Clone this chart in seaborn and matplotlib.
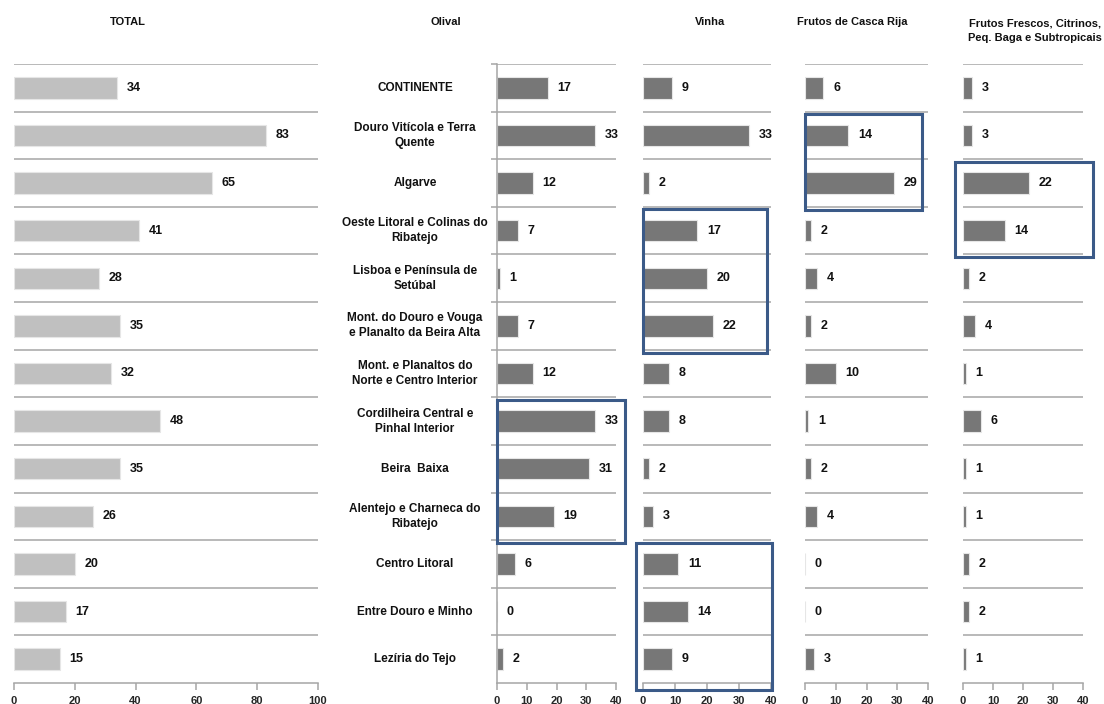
import pandas as pd
import numpy as np
import matplotlib
matplotlib.use('Agg')
import matplotlib.pyplot as plt
import seaborn as sns
from matplotlib.patches import Rectangle

# ── DATA ─────────────────────────────────────────────────────
regions = [
    'CONTINENTE',
    'Douro Vitícola e Terra\nQuente',
    'Algarve',
    'Oeste Litoral e Colinas do\nRibatejo',
    'Lisboa e Península de\nSetúbal',
    'Mont. do Douro e Vouga\ne Planalto da Beira Alta',
    'Mont. e Planaltos do\nNorte e Centro Interior',
    'Cordilheira Central e\nPinhal Interior',
    'Beira  Baixa',
    'Alentejo e Charneca do\nRibatejo',
    'Centro Litoral',
    'Entre Douro e Minho',
    'Lezíria do Tejo',
]

total = [34, 83, 65, 41, 28, 35, 32, 48, 35, 26, 20, 17, 15]
olival = [17, 33, 12, 7, 1, 7, 12, 33, 31, 19, 6, 0, 2]
vinha = [9, 33, 2, 17, 20, 22, 8, 8, 2, 3, 11, 14, 9]
casca_rija = [6, 14, 29, 2, 4, 2, 10, 1, 2, 4, 0, 0, 3]
frescos = [3, 3, 22, 14, 2, 4, 1, 6, 1, 1, 2, 2, 1]

titles = ['TOTAL', 'Olival', 'Vinha', 'Frutos de Casca Rija',
          'Frutos Frescos, Citrinos,\nPeq. Baga e Subtropicais']
series = [total, olival, vinha, casca_rija, frescos]
xmaxes = [100, 40, 40, 40, 40]
xsteps = [20, 10, 10, 10, 10]

# highlighted groups: panel index, first row, last row
highlights = [(1, 7, 9), (2, 3, 5), (2, 10, 12), (3, 1, 2), (4, 2, 3)]

# ── STYLE ────────────────────────────────────────────────────
sns.set_style('white')
FONT = ['Liberation Sans Narrow', 'Liberation Sans', 'DejaVu Sans']
plt.rcParams['font.family'] = FONT

LIGHT = '#c0c0c0'
DARK = '#777777'
GRID = '#a6a6a6'
BOX = '#3b5a88'

fig = plt.figure(figsize=(11.04, 7.04), dpi=100)

# axes rectangles in pixels -> figure fraction
lefts = [14, 497, 643, 805, 963]
rights = [318, 616, 771, 928, 1083]
top_px, bot_px = 64, 683
H = (bot_px - top_px) / 704
B = 1 - bot_px / 704

axes = []
for i, (vals, title) in enumerate(zip(series, titles)):
    ax = fig.add_axes([lefts[i] / 1104, B, (rights[i] - lefts[i]) / 1104, H])
    df = pd.DataFrame({'region': regions, 'value': vals})
    sns.barplot(data=df, x='value', y='region', orient='h', ax=ax,
                color=LIGHT if i == 0 else DARK, saturation=1,
                width=0.45, edgecolor='#e6e6e6', linewidth=0.8)
    for c in ax.containers:
        ax.bar_label(c, fmt='%d', padding=7, fontsize=9, fontweight='bold',
                     color='#111111', family=FONT)

    ax.set_xlim(0, xmaxes[i])
    ax.set_ylim(len(regions) - 0.5, -0.5)
    ax.set_xticks(np.arange(0, xmaxes[i] + 1, xsteps[i]))
    ax.set_xlabel('')
    ax.set_ylabel('')
    ax.set_yticks([])

    # row separators
    ax.set_yticks(np.arange(-0.5, len(regions) - 0.5, 1), minor=True)
    ax.grid(which='minor', axis='y', color=GRID, linewidth=1.1)
    ax.set_axisbelow(True)

    for s in ['top', 'right']:
        ax.spines[s].set_visible(False)
    ax.spines['bottom'].set_color(GRID)
    ax.spines['bottom'].set_linewidth(1.1)
    if i == 1:
        ax.spines['left'].set_color(GRID)
        ax.spines['left'].set_linewidth(1.1)
        ax.tick_params(axis='y', which='minor', left=True, length=4,
                       color=GRID, width=1.1)
    else:
        ax.spines['left'].set_visible(False)
        ax.tick_params(axis='y', which='minor', left=False)

    ax.tick_params(axis='x', bottom=True, length=5, color=GRID, width=1.1,
                   labelsize=8, pad=4)
    for lab in ax.get_xticklabels():
        lab.set_fontweight('bold')
    axes.append(ax)

# category labels, centred left of the Olival panel
ax_ol = axes[1]
for k, name in enumerate(regions):
    ax_ol.text((415 - 497) / (616 - 497), k, name,
               transform=ax_ol.get_yaxis_transform(),
               ha='center', va='center', fontsize=8.5, fontweight='bold',
               color='#111111', linespacing=1.35)

# panel titles
title_pos = [(128, 22), (446, 22), (710, 22), (852, 22), (1035, 31)]
for (px, py), t in zip(title_pos, titles):
    fig.text(px / 1104, 1 - py / 704, t, ha='center', va='center',
             fontsize=8, fontweight='bold', color='#111111', linespacing=1.5)

# highlight boxes around row groups (x extents in data units)
box_x = {(1, 7): (0.0, 43.0), (2, 3): (0.0, 38.8), (2, 10): (-2.2, 40.3),
         (3, 1): (0.0, 38.0), (4, 2): (-2.7, 43.3)}
for pi, r0, r1 in highlights:
    ax = axes[pi]
    x0, x1 = box_x[(pi, r0)]
    y0, y1 = r0 - 0.45, r1 + 0.56
    if (pi, r0) == (2, 10):
        y1 = r1 + 0.65
    ax.add_patch(Rectangle((x0, y0), x1 - x0, y1 - y0, fill=False,
                           edgecolor=BOX, linewidth=2.2, clip_on=False,
                           zorder=5))

plt.savefig('out.png', dpi=100)
plt.close()
